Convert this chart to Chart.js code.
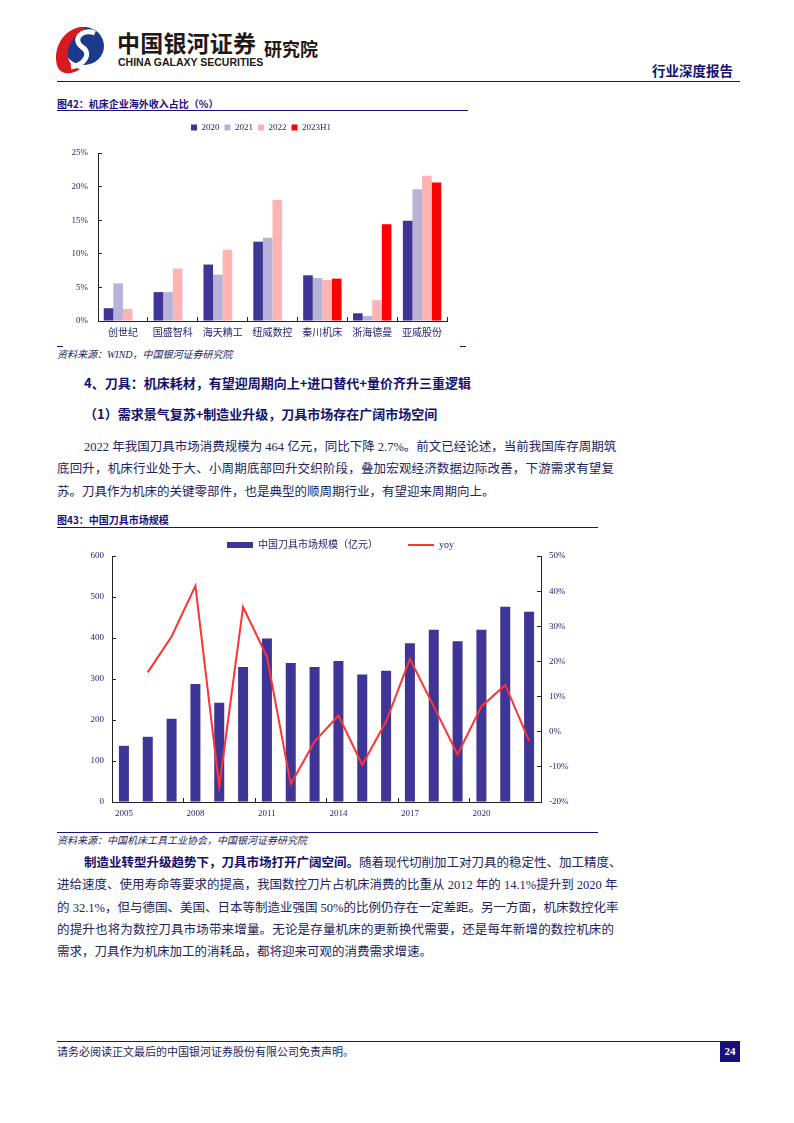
<!DOCTYPE html>
<html lang="zh-CN">
<head>
<meta charset="utf-8">
<script src="https://cdn.jsdelivr.net/npm/chart.js@4.4.0/dist/chart.umd.min.js"></script>
<style>
body { margin: 0; background: #fff; }
#page { position: relative; width: 794px; height: 1123px; overflow: hidden; background: #fff;
  font-family: "Liberation Serif", "Noto Sans CJK SC", serif; color: #23235e; }
.rule { position: absolute; height: 0; border-top: 1.5px solid #1a0f80; }
.fig-title { position: absolute; left: 57px; font-family: "Noto Sans CJK SC", sans-serif; font-weight: 700;
  font-size: 10px; color: #1a0f80; line-height: 12px; }
.source { position: absolute; left: 57px; font-style: italic; font-size: 10px; color: #23235e; line-height: 12px; }
.h { position: absolute; left: 84px; font-family: "Noto Sans CJK SC", sans-serif; font-weight: 700;
  font-size: 13px; color: #14106e; line-height: 16px; }
.para { position: absolute; left: 57px; width: 557px; font-size: 12.5px; line-height: 22.3px; }
.para div { text-align: justify; text-align-last: justify; white-space: nowrap; }
.para div.first { margin-left: 27px; }
.para div.last { text-align-last: left; }
.para b { font-family: "Noto Sans CJK SC", sans-serif; color: #14106e; }
canvas { position: absolute; }
</style>
</head>
<body>
<div id="page">
  <!-- header -->
  <svg style="position:absolute;left:50px;top:22px" width="60" height="54">
    <ellipse cx="34" cy="24" rx="20" ry="19" fill="#1b3a8c"/>
    <path d="M30 5 C10 9 2 31 8 46 C12 53 22 53 30 47 C18 45 14 31 22 19 C26 13 30 9 36 7 Z" fill="#d71920"/>
    <path d="M45 11 C31 6 22 18 32 25 C42 31 35 43 21 45" stroke="#fff" stroke-width="5" fill="none"/>
  </svg>
  <div style="position:absolute;left:117px;top:28px;font-family:'Noto Sans CJK SC';font-weight:700;font-size:23px;letter-spacing:0.2px;color:#231815;line-height:28px">中国银河证券</div>
  <div style="position:absolute;left:118px;top:56px;font-family:'Liberation Sans Narrow','Liberation Sans';font-weight:700;font-size:10.5px;color:#231815;line-height:12px">CHINA GALAXY SECURITIES</div>
  <div style="position:absolute;left:264px;top:36px;font-family:'Noto Sans CJK SC';font-weight:700;font-size:18px;color:#231815;line-height:24px">研究院</div>
  <div style="position:absolute;left:652px;top:61px;font-family:'Noto Sans CJK SC';font-weight:700;font-size:13.5px;color:#14106e;line-height:18px">行业深度报告</div>
  <div class="rule" style="left:57px;top:81px;width:683px"></div>

  <!-- figure 42 -->
  <div class="fig-title" style="top:98px">图42：机床企业海外收入占比（%）</div>
  <div class="rule" style="left:57px;top:110px;width:411px"></div>
  <canvas id="chart42" width="412" height="226" style="left:55px;top:118px"></canvas>
  <div style="position:absolute;left:57px;top:346px;width:6px;border-top:1px solid #1a0f80"></div>
  <div style="position:absolute;left:460px;top:346px;width:6px;border-top:1px solid #1a0f80"></div>
  <div class="source" style="top:349px">资料来源：WIND，中国银河证券研究院</div>

  <div class="h" style="top:375px">4、刀具：机床耗材，有望迎周期向上+进口替代+量价齐升三重逻辑</div>
  <div class="h" style="top:406px">（1）需求景气复苏+制造业升级，刀具市场存在广阔市场空间</div>

  <div class="para" style="top:436px">
    <div class="first">2022 年我国刀具市场消费规模为 464 亿元，同比下降 2.7%。前文已经论述，当前我国库存周期筑</div>
    <div>底回升，机床行业处于大、小周期底部回升交织阶段，叠加宏观经济数据边际改善，下游需求有望复</div>
    <div class="last">苏。刀具作为机床的关键零部件，也是典型的顺周期行业，有望迎来周期向上。</div>
  </div>

  <!-- figure 43 -->
  <div class="fig-title" style="top:514px">图43：中国刀具市场规模</div>
  <div class="rule" style="left:57px;top:527px;width:541px"></div>
  <canvas id="chart43" width="543" height="313" style="left:57px;top:510px"></canvas>
  <div class="rule" style="left:57px;top:832px;width:541px"></div>
  <div class="source" style="top:835px">资料来源：中国机床工具工业协会，中国银河证券研究院</div>

  <div class="para" style="top:851px">
    <div class="first"><b>制造业转型升级趋势下，刀具市场打开广阔空间。</b>随着现代切削加工对刀具的稳定性、加工精度、</div>
    <div>进给速度、使用寿命等要求的提高，我国数控刀片占机床消费的比重从 2012 年的 14.1%提升到 2020 年</div>
    <div>的 32.1%，但与德国、美国、日本等制造业强国 50%的比例仍存在一定差距。另一方面，机床数控化率</div>
    <div>的提升也将为数控刀具市场带来增量。无论是存量机床的更新换代需要，还是每年新增的数控机床的</div>
    <div class="last">需求，刀具作为机床加工的消耗品，都将迎来可观的消费需求增速。</div>
  </div>

  <!-- footer -->
  <div class="rule" style="left:57px;top:1041px;width:683px"></div>
  <div style="position:absolute;left:57px;top:1045px;font-size:11px;line-height:14px;color:#23235e">请务必阅读正文最后的中国银河证券股份有限公司免责声明。</div>
  <div style="position:absolute;left:720px;top:1041px;width:20px;height:21px;background:#1a0f78;color:#fff;font-size:11px;font-weight:700;line-height:21px;text-align:center">24</div>
</div>

<script>
// Figure 42 data
const firms = ["创世纪", "国盛智科", "海天精工", "纽威数控", "秦川机床", "浙海德曼", "亚威股份"];
const share2020 = [1.9, 4.3, 8.4, 11.8, 6.8, 1.15, 14.9];
const share2021 = [5.6, 4.3, 6.9, 12.4, 6.4, 0.75, 19.6];
const share2022 = [1.8, 7.8, 10.6, 18.0, 6.1, 3.1, 21.6];
const share2023H1 = [null, null, null, null, 6.3, 14.4, 20.6];

// Figure 43 data
const years = ["2005", "2006", "2007", "2008", "2009", "2010", "2011", "2012", "2013",
               "2014", "2015", "2016", "2017", "2018", "2019", "2020", "2021", "2022"];
const marketSize = [137, 159, 203, 288, 242, 329, 399, 339, 329, 344, 311, 320, 387, 420, 392, 420, 476, 464];
const yoy = [null, 16.9, 27.1, 41.5, -15.7, 35.5, 21.4, -14.9, -2.8, 4.6, -9.4, 2.9, 20.7, 7.2, -6.5, 7.2, 13.3, -2.6];

Chart.defaults.font.family = "'Liberation Serif', 'Noto Sans CJK SC', serif";
Chart.defaults.color = "#1e1e6e";
Chart.defaults.animation = false;

// fixed legend block height (and a small sideways nudge) so the plot lands where the original has it
function legendBox(h, dx) {
    return {
        id: "legendBox",
        beforeInit(chart) {
            const fit = chart.legend.fit;
            chart.legend.fit = function () {
                fit.bind(chart.legend)();
                this.height = h;
            };
        },
        afterLayout(chart) {
            chart.legend.left += dx;
            chart.legend.right += dx;
        }
    };
}

new Chart(document.getElementById("chart42"), {
    type: "bar",
    data: {
        labels: firms,
        datasets: [
            { label: "2020", data: share2020, backgroundColor: "#3f3596" },
            { label: "2021", data: share2021, backgroundColor: "#b8b2d9" },
            { label: "2022", data: share2022, backgroundColor: "#ffb3b3" },
            { label: "2023H1", data: share2023H1, backgroundColor: "#ff0000" }
        ]
    },
    options: {
        responsive: false,
        devicePixelRatio: 1,
        layout: { padding: { right: 20 } },
        datasets: { bar: { categoryPercentage: 0.77, barPercentage: 1 } },
        plugins: {
            legend: {
                labels: { boxWidth: 6, boxHeight: 6, padding: 5, font: { size: 9 }, color: "#1e1e6e" }
            },
            tooltip: { enabled: false }
        },
        scales: {
            x: {
                afterFit(s) { s.height = 23; },
                border: { color: "#222", width: 1 },
                grid: { drawOnChartArea: false, tickLength: -4, color: "#222" },
                ticks: { padding: 10, font: { size: 10 }, color: "#1e1e6e", maxRotation: 0 }
            },
            y: {
                min: 0, max: 25,
                afterFit(s) { s.width = 43; },
                border: { color: "#222", width: 1 },
                grid: { drawOnChartArea: false, tickLength: -4, color: "#222" },
                ticks: { stepSize: 5, padding: 14, font: { size: 9 }, color: "#1e1e6e",
                         callback: v => v + "%" }
            }
        }
    },
    plugins: [legendBox(35, 10)]
});

new Chart(document.getElementById("chart43"), {
    type: "bar",
    data: {
        labels: years,
        datasets: [
            { type: "bar", label: "中国刀具市场规模（亿元）", data: marketSize, backgroundColor: "#3f3596",
              pointStyle: "rect", yAxisID: "y", order: 2 },
            { type: "line", label: "yoy", data: yoy, borderColor: "#ff3333", backgroundColor: "#ff3333",
              borderWidth: 2, pointRadius: 0, pointStyle: "line", tension: 0, yAxisID: "y1", order: 1 }
        ]
    },
    options: {
        responsive: false,
        devicePixelRatio: 1,
        datasets: { bar: { categoryPercentage: 0.42, barPercentage: 1 } },
        plugins: {
            legend: {
                labels: { usePointStyle: true, pointStyleWidth: 26, boxHeight: 6, padding: 30,
                          font: { size: 10 }, color: "#1e1e6e",
                          sort: (a, b) => a.datasetIndex - b.datasetIndex }
            },
            tooltip: { enabled: false }
        },
        scales: {
            x: {
                afterFit(s) { s.height = 21; },
                border: { color: "#222", width: 1 },
                grid: { drawOnChartArea: false, tickLength: -4,
                        color: ctx => (ctx.index % 3 === 0 && ctx.index > 0) ? "#222" : "rgba(0,0,0,0)" },
                ticks: { autoSkip: false, maxRotation: 0, padding: 10, font: { size: 9 }, color: "#1e1e6e",
                         callback: (v, i) => i % 3 === 0 ? years[i] : "" }
            },
            y: {
                position: "left",
                min: 0, max: 600,
                afterFit(s) { s.width = 55; },
                border: { color: "#222", width: 1 },
                grid: { drawOnChartArea: false, tickLength: -4, color: "#222" },
                ticks: { stepSize: 100, padding: 12, font: { size: 9 }, color: "#1e1e6e" }
            },
            y1: {
                position: "right",
                min: -20, max: 50,
                afterFit(s) { s.width = 59; },
                border: { color: "#222", width: 1 },
                grid: { drawOnChartArea: false, tickLength: -4, color: "#222" },
                ticks: { stepSize: 10, padding: 12, font: { size: 9 }, color: "#1e1e6e",
                         callback: v => v + "%" }
            }
        }
    },
    plugins: [legendBox(46, 12)]
});
</script>
</body>
</html>
